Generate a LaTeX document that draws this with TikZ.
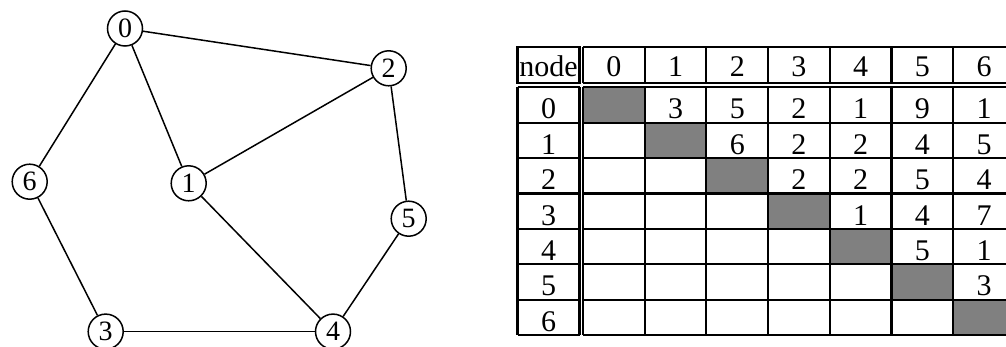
\documentclass[tikz,border=0pt]{standalone}
\usepackage{fontspec}
\setmainfont{Liberation Serif}
\begin{document}
\begin{tikzpicture}[x=1pt,y=-1pt,
  vertex/.style={circle,draw,line width=1.5pt,minimum size=35pt,inner sep=0pt,fill=white,
    font=\fontsize{28}{30}\selectfont},
  edge/.style={line width=1.5pt},
  grid/.style={line width=2.1pt},
  cell/.style={anchor=base,inner sep=0pt,font=\fontsize{30}{34}\selectfont},
  diag/.style={fill=black!50}]
\useasboundingbox (0,0) rectangle (1006,347);
\clip (0,0) rectangle (1006,347);

% ---- graph ----
\node[vertex] (v0) at (125,28.5) {0};
\node[vertex] (v2) at (388.7,68.3) {2};
\node[vertex] (v6) at (29.7,181.7) {6};
\node[vertex] (v1) at (188.7,183.3) {1};
\node[vertex] (v5) at (408.7,218.7) {5};
\node[vertex] (v3) at (105.7,331.6) {3};
\node[vertex] (v4) at (333,331.6) {4};
\foreach \a/\b in {v0/v2,v0/v1,v0/v6,v1/v2,v2/v5,v1/v4,v5/v4,v6/v3,v3/v4}
  \draw[edge] (\a) -- (\b);

% ---- distance table ----
\def\xl{517.5}\def\xr{579.5}   % label column
\def\xb{583}\def\cw{61.7}      % body columns
\def\yt{47}\def\yh{83}         % header row
\def\yb{87.3}\def\rh{35.4}     % body rows

% diagonal cells
\foreach \i in {0,...,6}
  \fill[diag] (\xb+\i*\cw,\yb+\i*\rh) rectangle (\xb+\i*\cw+\cw,\yb+\i*\rh+\rh);

% corner cell
\draw[grid] (\xl,\yt) rectangle (\xr,\yh);
\node[cell] (corner) at ({(\xl+\xr)/2},76.5) {node};

% header row
\draw[grid] (\xb,\yt) -- (\xb+7*\cw,\yt) (\xb,\yh) -- (\xb+7*\cw,\yh);
\foreach \c in {0,...,7}
  \draw[grid] (\xb+\c*\cw,\yt) -- (\xb+\c*\cw,\yh);
\foreach \c in {0,...,6}
  \node[cell] (h\c) at (\xb+\c*\cw+\cw/2,76.5) {\c};

% label column
\draw[grid] (\xl,\yb) -- (\xl,\yb+7*\rh) (\xr,\yb) -- (\xr,\yb+7*\rh);
\foreach \r in {0,...,7}
  \draw[grid] (\xl,\yb+\r*\rh) -- (\xr,\yb+\r*\rh);
\foreach \r in {0,...,6}
  \node[cell] (l\r) at ({(\xl+\xr)/2},\yb+\r*\rh+\rh-3.8) {\r};

% body grid
\foreach \r in {0,...,7}
  \draw[grid] (\xb,\yb+\r*\rh) -- (\xb+7*\cw,\yb+\r*\rh);
\foreach \c in {0,...,7}
  \draw[grid] (\xb+\c*\cw,\yb) -- (\xb+\c*\cw,\yb+7*\rh);

% upper-triangle entries: row/column/value
\foreach \r/\c/\v in {0/1/3,0/2/5,0/3/2,0/4/1,0/5/9,0/6/1,
                      1/2/6,1/3/2,1/4/2,1/5/4,1/6/5,
                      2/3/2,2/4/2,2/5/5,2/6/4,
                      3/4/1,3/5/4,3/6/7,
                      4/5/5,4/6/1,
                      5/6/3}
  \node[cell] (d\r\c) at (\xb+\c*\cw+\cw/2,\yb+\r*\rh+\rh-3.8) {\v};
\end{tikzpicture}
\end{document}
